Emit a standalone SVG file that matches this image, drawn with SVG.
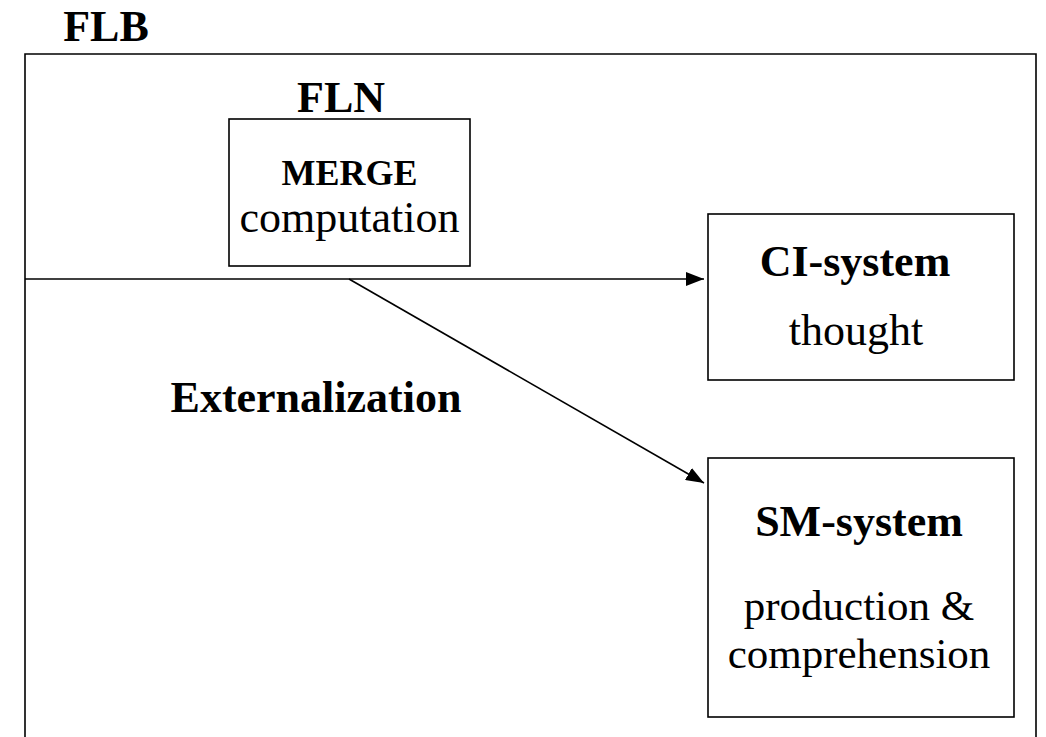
<svg xmlns="http://www.w3.org/2000/svg" width="1046" height="737" viewBox="0 0 1046 737">
<style>
.box{fill:#fff;stroke:#000;stroke-width:1.6}
.t{font-family:"Liberation Serif","Times New Roman",serif;font-size:44px;fill:#000;text-anchor:middle}
.b{font-weight:bold}
.c{stroke:#000;stroke-width:1.6;fill:none}
</style>
<defs>
<marker id="arr" viewBox="0 0 18 14" refX="18" refY="7" markerWidth="18" markerHeight="14" markerUnits="userSpaceOnUse" orient="auto">
<path d="M0,0 L18,7 L0,14 Z" fill="#000"/>
</marker>
</defs>
<rect width="1046" height="737" fill="#fff"/>
<g id="flb">
<path class="c" d="M25,740 V54 H1036 V740"/>
<text class="t b" x="106" y="41">FLB</text>
</g>
<g id="fln">
<text class="t b" x="341" y="112">FLN</text>
<rect class="box" x="229" y="119" width="241" height="147"/>
<text class="t b" x="349.5" y="185" style="font-size:36px">MERGE</text>
<text class="t" x="349.5" y="232">computation</text>
</g>
<g id="connectors">
<line class="c" x1="25" y1="279" x2="704" y2="279" marker-end="url(#arr)"/>
<line class="c" x1="349" y1="279" x2="704" y2="483" marker-end="url(#arr)"/>
</g>
<g id="externalization">
<text class="t b" x="316" y="412">Externalization</text>
</g>
<g id="ci">
<rect class="box" x="708" y="214" width="306" height="166"/>
<text class="t b" x="855" y="276">CI-system</text>
<text class="t" x="856" y="345">thought</text>
</g>
<g id="sm">
<rect class="box" x="708" y="458" width="306" height="259"/>
<text class="t b" x="859" y="536">SM-system</text>
<text class="t" x="859" y="620" style="font-size:43px">production &amp;</text>
<text class="t" x="859" y="668" style="font-size:43px">comprehension</text>
</g>
</svg>
